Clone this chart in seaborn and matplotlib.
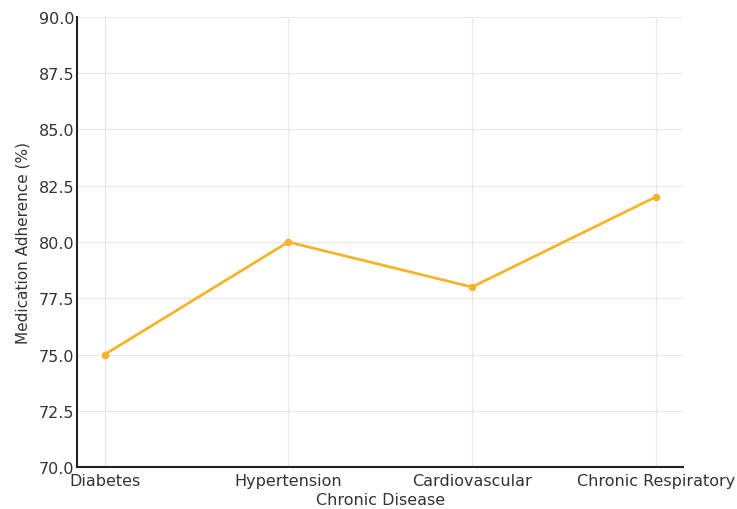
import matplotlib
matplotlib.use('Agg')
import matplotlib.pyplot as plt
import seaborn as sns
import pandas as pd

# data
diseases = ['Diabetes', 'Hypertension', 'Cardiovascular', 'Chronic Respiratory']
adherence = [75, 80, 78, 82]

df = pd.DataFrame({'Chronic Disease': diseases, 'Medication Adherence (%)': adherence})

sns.set_style('whitegrid')
plt.rcParams['font.family'] = ['DejaVu Sans']

fig = plt.figure(figsize=(7.37, 5.10), dpi=100)
ax = fig.add_axes([0.1045, 0.082, 0.8225, 0.883])

sns.lineplot(data=df, x='Chronic Disease', y='Medication Adherence (%)', ax=ax,
             color='#F6B42C', linewidth=2, marker='o', markersize=5.5,
             markeredgewidth=0, sort=False)

ax.set_ylim(70, 90)
ax.set_yticks([70, 72.5, 75, 77.5, 80, 82.5, 85, 87.5, 90])
ax.set_yticklabels(['70.0', '72.5', '75.0', '77.5', '80.0', '82.5', '85.0', '87.5', '90.0'])
ax.grid(True, color='#e8e8e8', linewidth=0.8)
ax.tick_params(direction='in', length=3, colors='#333333', labelsize=11.5, pad=2)
ax.tick_params(axis='x', pad=4)
for s in ['top', 'right']:
    ax.spines[s].set_visible(False)
for s in ['left', 'bottom']:
    ax.spines[s].set_visible(True)
    ax.spines[s].set_color('#222222')
    ax.spines[s].set_linewidth(1.5)
ax.set_xlabel('Chronic Disease', fontsize=11.5, color='#333333', labelpad=3)
ax.set_ylabel('Medication Adherence (%)', fontsize=11, color='#333333', labelpad=6)

plt.savefig('out.png', dpi=100)
